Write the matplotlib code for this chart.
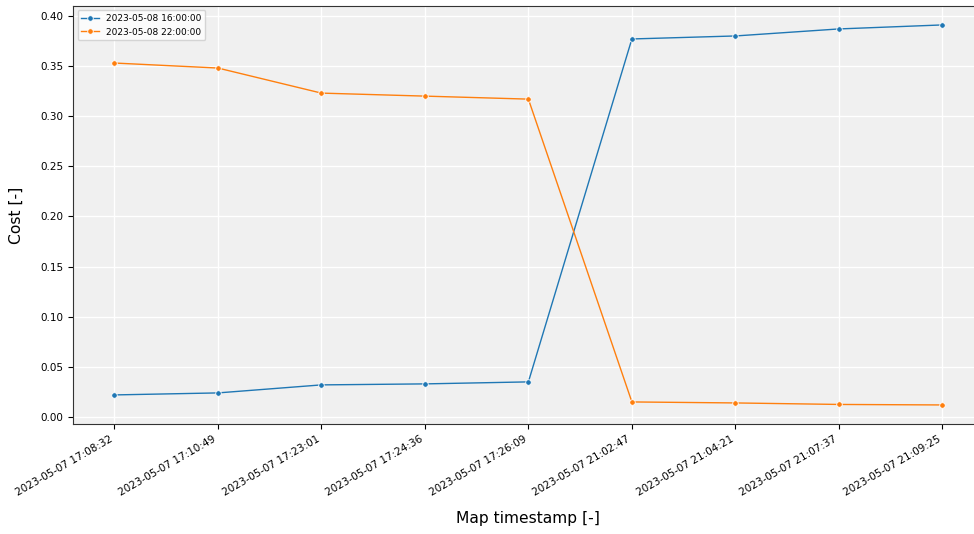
import matplotlib
matplotlib.use("Agg")
import matplotlib.pyplot as plt

timestamps = ["2023-05-07 17:08:32", "2023-05-07 17:10:49", "2023-05-07 17:23:01",
              "2023-05-07 17:24:36", "2023-05-07 17:26:09", "2023-05-07 21:02:47",
              "2023-05-07 21:04:21", "2023-05-07 21:07:37", "2023-05-07 21:09:25"]
cost_16 = [0.022, 0.024, 0.032, 0.033, 0.035, 0.377, 0.380, 0.387, 0.391]
cost_22 = [0.353, 0.348, 0.323, 0.320, 0.317, 0.015, 0.014, 0.0125, 0.012]
series_labels = ["2023-05-08 16:00:00", "2023-05-08 22:00:00"]

fig = plt.figure(figsize=(9.74, 5.34), dpi=100)
# axes runs a little past the right edge, as in the cropped original
ax = fig.add_axes([0.075, 0.206, 0.935, 0.783])
ax.set_facecolor("#f0f0f0")
ax.grid(True, color="white", linewidth=1.0)
ax.set_axisbelow(True)

x = list(range(len(timestamps)))
for vals, lab, col in zip([cost_16, cost_22], series_labels, ["#1f77b4", "#ff7f0e"]):
    ax.plot(x, vals, color=col, linewidth=1.0, marker="o", markersize=4,
            markeredgecolor="white", markeredgewidth=0.6, label=lab)

ax.set_xticks(x)
ax.set_xticklabels(timestamps, rotation=30, ha="right", fontsize=7.5)
ax.set_xlim(-0.4, 8.4)
ax.set_ylim(-0.007, 0.41)
ax.set_yticks([0.0, 0.05, 0.10, 0.15, 0.20, 0.25, 0.30, 0.35, 0.40])
ax.set_yticklabels([f"{v:.2f}" for v in ax.get_yticks()], fontsize=7.5)
ax.set_xlabel("Map timestamp [-]", fontsize=11.2, labelpad=10)
ax.set_ylabel("Cost [-]", fontsize=11.2, labelpad=12)
for s in ["left", "bottom", "top", "right"]:
    ax.spines[s].set_color("#333333")

ax.legend(loc="upper left", fontsize=6.5, framealpha=0.8)

fig.savefig("out.png", dpi=100)
